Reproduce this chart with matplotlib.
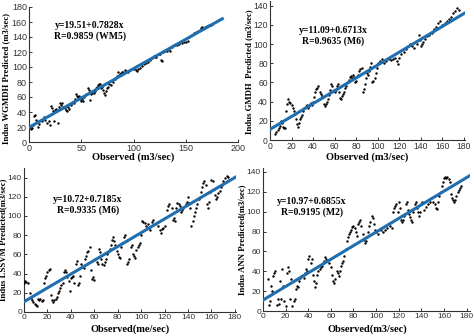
import matplotlib
matplotlib.use("Agg")
import matplotlib.pyplot as plt

# ---- data ----
# panel 1: WGMDH (WM5)
obs1 = [0, 1, 2, 3, 4, 5, 6, 7, 8, 9, 10, 12, 14, 15, 17, 18, 19, 20, 21, 22, 23, 24, 25, 26, 28, 29,
        30, 31, 32, 33, 34, 35, 36, 37, 38, 40, 41, 42, 43, 44, 45, 46, 47, 48, 49, 50, 51, 52, 53, 55,
        56, 57, 58, 59, 60, 62, 63, 64, 65, 66, 67, 68, 69, 70, 71, 72, 73, 74, 75, 76, 77, 78, 80, 82,
        84, 85, 86, 87, 88, 89, 90, 92, 93, 95, 97, 100, 102, 103, 104, 106, 108, 110, 112, 114, 116,
        118, 120, 121, 122, 124, 125, 126, 127, 128, 130, 132, 134, 135, 137, 139, 140, 142, 144, 146,
        148, 150, 152, 153, 154, 156, 158, 160, 162, 164, 165, 166, 168, 170, 172, 174, 175]
pred1 = [22, 20, 18, 19, 23, 35, 36, 30, 27, 20, 24, 28, 33, 30, 25, 35, 28, 23, 48, 46, 42, 28, 43, 44, 25, 47,
         52, 50, 52, 47, 45, 43, 41, 47, 44, 50, 52, 53, 52, 58, 64, 62, 60, 62, 57, 55, 58, 55, 60, 64,
         72, 70, 56, 64, 65, 66, 68, 72, 74, 76, 78, 77, 72, 74, 70, 66, 63, 68, 72, 73, 77, 76, 80, 84,
         88, 93, 90, 91, 92, 94, 94, 96, 95, 94, 96, 98, 96, 95, 98, 99, 101, 104, 106, 107, 110,
         112, 115, 114, 113, 118, 117, 110, 108, 120, 121, 122, 124, 122, 127, 129, 130, 130, 131, 132,
         134, 134, 135, 140, 142, 143, 145, 147, 148, 150, 152, 153, 154, 155, 156, 156, 157]

# panel 2: GMDH (M6)
obs2 = [5, 6, 7, 8, 9, 10, 11, 12, 13, 14, 15, 16, 17, 18, 19, 20, 21, 22, 23, 24, 25, 26, 27, 28, 29, 30,
        31, 32, 33, 34, 35, 36, 37, 38, 39, 40, 41, 42, 43, 44, 45, 46, 47, 48, 50, 51, 52, 53, 54, 55,
        56, 57, 58, 59, 60, 61, 62, 63, 64, 65, 66, 67, 68, 69, 70, 71, 72, 73, 74, 75, 76, 77, 78, 79,
        80, 82, 83, 84, 85, 86, 87, 88, 89, 90, 91, 92, 93, 94, 95, 96, 97, 98, 99, 100, 102, 104, 106,
        108, 110, 112, 114, 116, 118, 119, 120, 122, 124, 126, 128, 130, 132, 134, 136, 138, 139, 140,
        141, 142, 144, 146, 148, 150, 152, 154, 156, 158, 160, 162, 164, 166, 168, 170, 172, 174, 175]
pred2 = [6, 8, 10, 12, 15, 20, 18, 14, 13, 12, 30, 38, 43, 40, 39, 36, 33, 30, 27, 22, 17, 14, 18, 22, 24, 26,
         30, 33, 35, 36, 33, 35, 38, 39, 37, 40, 45, 50, 53, 54, 56, 50, 48, 46, 38, 35, 38, 40, 43, 47,
         52, 58, 56, 52, 50, 52, 56, 58, 50, 44, 43, 46, 48, 50, 54, 56, 60, 63, 66, 67, 65, 68, 66, 60,
         62, 68, 72, 74, 75, 50, 53, 58, 65, 70, 68, 72, 76, 80, 60, 62, 65, 70, 75, 80, 82, 84, 80,
         82, 84, 83, 85, 86, 82, 79, 86, 90, 92, 95, 98, 100, 98, 96, 100, 110, 104, 98,
         100, 102, 105, 108, 110, 112, 116, 118, 122, 124, 120, 122, 124, 126, 128, 132, 135, 138, 136]

# panel 3: LSSVM (M6)
obs3 = [0, 1, 2, 3, 5, 6, 7, 8, 9, 10, 11, 12, 13, 14, 15, 16, 17, 18, 19, 20, 21, 22, 23, 24, 25, 26,
        27, 28, 29, 30, 31, 32, 33, 34, 35, 36, 37, 38, 39, 40, 41, 42, 43, 44, 45, 46, 47, 48, 49, 50,
        51, 52, 53, 54, 55, 56, 57, 58, 59, 60, 61, 62, 63, 64, 65, 66, 67, 68, 69, 70, 71, 72, 73, 74,
        75, 76, 77, 78, 79, 80, 81, 82, 83, 84, 85, 86, 87, 88, 89, 90, 91, 92, 93, 94, 95, 96, 97, 98,
        99, 100, 101, 102, 103, 104, 106, 107, 108, 109, 110, 112, 114, 116, 117, 118, 119, 120, 122,
        123, 124, 126, 127, 128, 129, 130, 131, 132, 133, 134, 135, 136, 138, 139, 140, 141, 142, 143,
        144, 145, 146, 147, 148, 149, 150, 151, 152, 153, 154, 155, 156, 157, 158, 159, 160, 161, 162,
        163, 164, 165, 166, 167, 168, 169, 170, 172, 173, 174, 175]
pred3 = [30, 32, 31, 30, 20, 15, 12, 10, 8, 7, 6, 14, 12, 14, 11, 13, 30, 35, 38, 42, 44, 45, 18, 12, 10, 12,
         14, 16, 20, 22, 25, 28, 30, 42, 44, 42, 36, 32, 22, 35, 36, 38, 30, 50, 53, 28, 30, 38, 50, 48,
         46, 55, 58, 62, 64, 68, 44, 34, 36, 33, 55, 52, 50, 66, 62, 55, 50, 49, 52, 55, 60, 62, 66, 70,
         75, 78, 74, 70, 64, 60, 57, 56, 68, 72, 78, 80, 74, 50, 52, 55, 68, 70, 60, 58, 56, 65, 68, 70,
         72, 80, 95, 94, 93, 90, 92, 88, 85, 94, 96, 92, 90, 85, 82, 86, 88, 90, 106,
         110, 112, 108, 96, 98, 95, 108, 114, 112, 110, 104, 106, 108, 112, 115, 120, 114, 108, 90,
         95, 100, 104, 108, 112, 118, 120, 125, 130, 134, 136, 132, 112, 108, 115, 125, 138, 136, 128,
         122, 118, 120, 124, 126, 130, 132, 136, 140, 142, 141, 138]

# panel 4: ANN (M2)
obs4 = [4, 5, 6, 7, 8, 9, 10, 11, 12, 13, 14, 15, 16, 17, 18, 19, 20, 21, 22, 23, 24, 25, 26, 27, 28, 29,
        30, 31, 32, 33, 34, 35, 36, 37, 38, 39, 40, 41, 42, 43, 44, 45, 46, 47, 48, 49, 50, 51, 52, 53,
        54, 55, 56, 57, 58, 59, 60, 61, 62, 63, 64, 65, 66, 67, 68, 69, 70, 71, 72, 73, 74, 75, 76, 77,
        78, 79, 80, 81, 82, 83, 84, 85, 86, 87, 88, 89, 90, 91, 92, 93, 94, 95, 96, 97, 98, 99, 100,
        102, 104, 106, 108, 110, 112, 114, 115, 116, 117, 118, 119, 120, 121, 122, 123, 124, 125, 126,
        127, 128, 129, 130, 131, 132, 133, 134, 135, 136, 137, 138, 139, 140, 141, 142, 144, 146, 148,
        150, 152, 153, 154, 155, 156, 157, 158, 159, 160, 161, 162, 163, 164, 165, 166, 167, 168, 169,
        170, 171, 172, 173, 174, 175]
pred4 = [32, 6, 10, 25, 20, 35, 38, 40, 6, 12, 7, 30, 12, 42, 25, 10, 5, 38, 44, 40, 12, 32, 5, 10, 12, 22,
         25, 24, 30, 33, 35, 36, 33, 38, 42, 40, 52, 55, 48, 52, 36, 30, 24, 28, 36, 40, 42, 44, 45, 48,
         50, 54, 52, 50, 48, 52, 44, 36, 30, 28, 32, 40, 38, 35, 40, 45, 48, 50, 55, 62, 70, 75, 78, 80,
         82, 85, 86, 84, 80, 76, 88, 90, 92, 86, 78, 72, 68, 70, 75, 80, 86, 90, 96, 94, 88, 82, 80,
         78, 82, 80, 82, 84, 86, 84, 100, 104, 106, 108, 100, 110, 104, 92, 90, 92, 96, 108,
         110, 102, 98, 95, 92, 90, 100, 108, 110, 104, 100, 96, 100, 108, 110, 102, 105, 108, 110,
         110, 108, 104, 103, 110, 116, 120, 126, 130, 134, 135, 134, 135, 133, 130, 118, 114, 112, 110,
         112, 116, 120, 122, 124, 126]

fits = [(19.51, 0.7828), (11.09, 0.6713), (10.72, 0.7185), (10.97, 0.6855)]
eq_texts = ["y=19.51+0.7828x\nR=0.9859 (WM5)", "y=11.09+0.6713x\nR=0.9635 (M6)",
            "y=10.72+0.7185x\nR=0.9335 (M6)", "y=10.97+0.6855x\nR=0.9195 (M2)"]
ylabels = ["Indus WGMDH Predicted (m3/sec)", "Indus GMDH  Predicted (m3/sec)",
           "Indus LSSVM Predicted(m3/sec)", "Indus ANN Predicted(m3/sec)"]
xlabels = ["Observed (m3/sec)", "Observed (m3/sec)", "Observed(me/sec)", "Observed(m3/sec)"]

W, H = 474, 336
fig = plt.figure(figsize=(W / 100, H / 100), dpi=100)


def px_axes(l, t, r, b):
    return fig.add_axes([l / W, (H - b) / H, (r - l) / W, (b - t) / H])


# pixel boxes (left, top, right, bottom), limits and ticks
boxes = [(29, 7, 238, 142), (270, 1, 465, 140), (24, 168, 236, 312), (263, 168, 470, 311)]
xlims = [(0, 200), (0, 181), (0, 181), (0, 183)]
ylims = [(0, 180), (0, 145), (0, 150), (0, 144)]
xticks = [range(0, 201, 50), range(0, 181, 20), range(0, 181, 20), range(0, 181, 20)]
yticks = [range(0, 181, 20), range(0, 141, 20), range(0, 141, 20), range(0, 141, 20)]
line_end = [185, 183, 181, 183]
eq_pos = [(90, 31), (333, 36), (88, 205), (312, 207)]
ylab_x = [6, 249, 3.5, 242]
ylab_y = [78, 72, 240, 240]
tick_fs = [6.5, 6.2, 6.0, 6.0]
xlab_pos = [(133, 157), (367, 157), (130, 329), (367, 329)]

obs = [obs1, obs2, obs3, obs4]
pred = [pred1, pred2, pred3, pred4]

serif = "Liberation Serif"
for i in range(4):
    ax = px_axes(*boxes[i])
    ax.scatter(obs[i], pred[i], s=3, color="black", zorder=3, linewidths=0)
    a, b = fits[i]
    xs = [0, line_end[i]]
    ax.plot(xs, [a + b * x for x in xs], color="#1f6eb0", lw=2.2, zorder=4)
    ax.set_xlim(*xlims[i])
    ax.set_ylim(*ylims[i])
    ax.set_xticks(list(xticks[i]))
    ax.set_yticks(list(yticks[i]))
    ax.spines["top"].set_visible(False)
    ax.spines["right"].set_visible(False)
    for s in ("left", "bottom"):
        ax.spines[s].set_linewidth(0.8)
        ax.spines[s].set_color("#333333")
    ax.tick_params(direction="in", length=2.5, width=0.7, labelsize=tick_fs[i], pad=1.5,
                   colors="#333333")
    for lab in ax.get_xticklabels() + ax.get_yticklabels():
        lab.set_family("Liberation Sans")
    ax.set_facecolor("none")
    ex, ey = eq_pos[i]
    fig.text(ex / W, 1 - ey / H, eq_texts[i], ha="center", va="center", family=serif,
             fontweight="bold", fontsize=7, linespacing=1.15)
    fig.text(ylab_x[i] / W, 1 - ylab_y[i] / H, ylabels[i], rotation=90, ha="center",
             va="center", family=serif, fontweight="bold", fontsize=6.3)
    lx, ly = xlab_pos[i]
    fig.text(lx / W, 1 - ly / H, xlabels[i], ha="center", va="center", family=serif,
             fontweight="bold", fontsize=7.5)

fig.savefig("out.png", dpi=100)
